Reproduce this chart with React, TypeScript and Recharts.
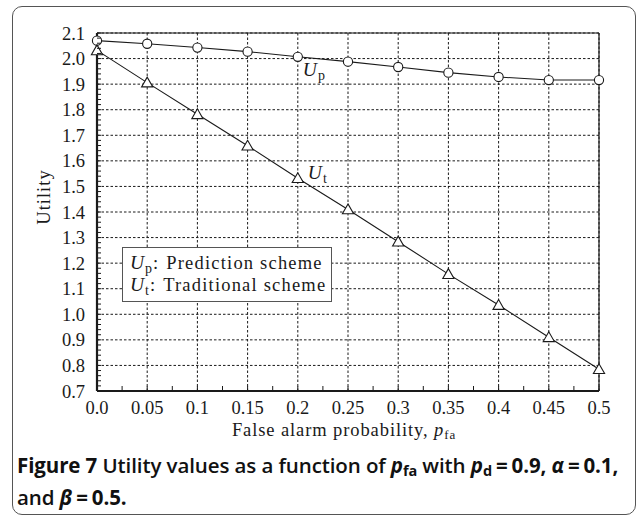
import React from 'react';
import { LineChart, Line, XAxis, YAxis, CartesianGrid, Legend, Label } from 'recharts';

const pfa = [0, 0.05, 0.1, 0.15, 0.2, 0.25, 0.3, 0.35, 0.4, 0.45, 0.5];
const utilityPrediction = [2.07, 2.058, 2.043, 2.027, 2.007, 1.988, 1.967, 1.945, 1.928, 1.916, 1.916];
const utilityTraditional = [2.032, 1.906, 1.782, 1.659, 1.532, 1.41, 1.284, 1.157, 1.036, 0.91, 0.785];

const xTicks = [0, 0.05, 0.1, 0.15, 0.2, 0.25, 0.3, 0.35, 0.4, 0.45, 0.5];
const xTickLabels = ['0.0', '0.05', '0.1', '0.15', '0.2', '0.25', '0.3', '0.35', '0.4', '0.45', '0.5'];
const yTicks = [0.7, 0.8, 0.9, 1.0, 1.1, 1.2, 1.3, 1.4, 1.5, 1.6, 1.7, 1.8, 1.9, 2.0, 2.1];
const yTickLabels = ['0.7', '0.8', '0.9', '1.0', '1.1', '1.2', '1.3', '1.4', '1.5', '1.6', '1.7', '1.8', '1.9', '2.0', '2.1'];
const xMinorTicks = Array.from({ length: 21 }, (_, i) => Math.round(i * 25) / 1000);
const yMinorTicks = Array.from({ length: 71 }, (_, i) => Math.round(700 + i * 20) / 1000);

const rows = pfa.map((x, i) => ({ x, up: utilityPrediction[i], ut: utilityTraditional[i] }));

const SERIF = '"Liberation Serif", "Times New Roman", serif';
const INK = '#1a1a1a';

const labelFor = (v: number, ticks: number[], labels: string[]) => {
  const j = ticks.findIndex((t) => Math.abs(t - v) < 1e-6);
  return j >= 0 ? labels[j] : null;
};

const XTick = (p: any) => {
  const v = p.payload?.value;
  const lab = labelFor(v, xTicks, xTickLabels);
  return (
    <g>
      <line x1={p.x} y1={p.y} x2={p.x} y2={p.y - 5} stroke={INK} strokeWidth={1} />
      {lab !== null && (
        <text x={p.x} y={p.y + 23} textAnchor="middle" fontFamily={SERIF} fontSize={18.5} fill={INK}>
          {lab}
        </text>
      )}
    </g>
  );
};

const YTick = (p: any) => {
  const v = p.payload?.value;
  const lab = labelFor(v, yTicks, yTickLabels);
  return (
    <g>
      <line x1={p.x} y1={p.y} x2={p.x + 4} y2={p.y} stroke={INK} strokeWidth={1} />
      {lab !== null && (
        <text x={p.x - 12} y={p.y + 6.5} textAnchor="end" fontFamily={SERIF} fontSize={18.5} fill={INK}>
          {lab}
        </text>
      )}
    </g>
  );
};

const CircleDot = (p: any) => (
  <circle key={`c${p.index}`} cx={p.cx} cy={p.cy} r={4.6} fill="#fff" stroke={INK} strokeWidth={1.1} />
);
const TriDot = (p: any) => (
  <polygon
    key={`t${p.index}`}
    points={`${p.cx},${p.cy - 5.5} ${p.cx - 5.6},${p.cy + 4.3} ${p.cx + 5.6},${p.cy + 4.3}`}
    fill="#fff"
    stroke={INK}
    strokeWidth={1.1}
  />
);

const SeriesName = ({ x, y, sub }: { x: number; y: number; sub: string }) => (
  <text x={x} y={y} fontFamily={SERIF} fill={INK}>
    <tspan fontSize={19.5} fontStyle="italic">U</tspan>
    <tspan fontSize={14} dy={4} dx={1}>{sub}</tspan>
  </text>
);

const upLabel = (p: any) =>
  p.index === 4 ? <SeriesName key="lup" x={p.x + 5} y={p.y + 19} sub="p" /> : null;
const utLabel = (p: any) =>
  p.index === 4 ? <SeriesName key="lut" x={p.x + 10} y={p.y + 1} sub="t" /> : null;

const LegendBox = () => {
  const item = (sub: string, text: string) => (
    <div style={{ whiteSpace: 'nowrap', height: 22, lineHeight: '22px' }}>
      <span style={{ fontStyle: 'italic', fontSize: 19.5 }}>U</span>
      <span style={{ fontSize: 14, position: 'relative', top: 4, marginLeft: 1 }}>{sub}</span>
      <span style={{ marginLeft: 1, marginRight: 8 }}>:</span>
      <span style={{ letterSpacing: 1.2 }}>{text}</span>
    </div>
  );
  return (
    <div
      style={{
        width: 210,
        height: 55,
        boxSizing: 'border-box',
        border: '1.3px solid #555',
        background: '#fff',
        padding: '4px 0 0 7px',
        fontFamily: SERIF,
        fontSize: 18.5,
        color: INK,
        textAlign: 'left',
      }}
    >
      {item('p', 'Prediction scheme')}
      {item('t', 'Traditional scheme')}
    </div>
  );
};

const Eq = () => <span style={{ margin: '0 4px' }}>=</span>;

export default function App() {
  return (
    <div style={{ position: 'absolute', left: 0, top: 0, width: 637, height: 519, background: '#fff' }}>
      <div
        style={{
          position: 'absolute',
          left: 12,
          top: 6,
          width: 624,
          height: 509,
          boxSizing: 'border-box',
          border: '1.3px solid #555',
          borderRadius: 10,
        }}
      />
      <div style={{ position: 'absolute', left: 0, top: 0 }}>
        <LineChart width={637} height={519} data={rows} margin={{ top: 32, right: 37, bottom: 127, left: 96 }}>
          <CartesianGrid
            xAxisId="main"
            yAxisId="main"
            horizontalValues={yTicks}
            verticalValues={xTicks}
            stroke={INK}
            strokeDasharray="2.5 2"
            strokeWidth={1}
          />
          <XAxis
            xAxisId="main"
            type="number"
            dataKey="x"
            domain={[0, 0.5]}
            ticks={xMinorTicks}
            interval={0}
            height={1}
            axisLine={{ stroke: INK, strokeWidth: 2.2 }}
            tickLine={false}
            tickSize={0}
            tickMargin={0}
            tick={XTick}
          >
            <Label
              content={(p: any) => {
                const vb = p.viewBox || {};
                return (
                  <text
                    x={vb.x + vb.width / 2 - 4}
                    y={vb.y + 45}
                    textAnchor="middle"
                    fontFamily={SERIF}
                    fontSize={18.5}
                    fill={INK}
                    style={{ letterSpacing: 0.9 }}
                  >
                    False alarm probability,{' '}
                    <tspan fontStyle="italic">p</tspan>
                    <tspan fontSize={13} dy={3}>fa</tspan>
                  </text>
                );
              }}
            />
          </XAxis>
          <XAxis
            xAxisId="top"
            orientation="top"
            type="number"
            dataKey="x"
            domain={[0, 0.5]}
            height={1}
            tick={false}
            tickLine={false}
            axisLine={{ stroke: INK, strokeWidth: 1.2 }}
          />
          <YAxis
            yAxisId="main"
            type="number"
            domain={[0.7, 2.1]}
            ticks={yMinorTicks}
            interval={0}
            width={1}
            axisLine={{ stroke: INK, strokeWidth: 2.2 }}
            tickLine={false}
            tickSize={0}
            tickMargin={0}
            tick={YTick}
          >
            <Label
              content={(p: any) => {
                const vb = p.viewBox || {};
                const cx = vb.x + vb.width - 53;
                const cy = vb.y + vb.height / 2 - 15;
                return (
                  <text
                    x={cx}
                    y={cy}
                    transform={`rotate(-90 ${cx} ${cy})`}
                    textAnchor="middle"
                    dominantBaseline="central"
                    fontFamily={SERIF}
                    fontSize={18.5}
                    fill={INK}
                    style={{ letterSpacing: 1 }}
                  >
                    Utility
                  </text>
                );
              }}
            />
          </YAxis>
          <YAxis
            yAxisId="right"
            orientation="right"
            type="number"
            domain={[0.7, 2.1]}
            width={1}
            tick={false}
            tickLine={false}
            axisLine={{ stroke: INK, strokeWidth: 1.2 }}
          />
          <Line
            xAxisId="main"
            yAxisId="main"
            type="linear"
            dataKey="up"
            name="Prediction scheme"
            stroke={INK}
            strokeWidth={1.1}
            dot={CircleDot}
            activeDot={false}
            label={upLabel}
            isAnimationActive={false}
          />
          <Line
            xAxisId="main"
            yAxisId="main"
            type="linear"
            dataKey="ut"
            name="Traditional scheme"
            stroke={INK}
            strokeWidth={1.1}
            dot={TriDot}
            activeDot={false}
            label={utLabel}
            isAnimationActive={false}
          />
          <Legend
            layout="vertical"
            align="center"
            verticalAlign="middle"
            content={() => <LegendBox />}
            wrapperStyle={{ position: 'absolute', left: 122, top: 247, width: 210, height: 55 }}
          />
        </LineChart>
      </div>
      <div
        style={{
          position: 'absolute',
          left: 17,
          top: 449,
          fontFamily: '"Open Sans", "Noto Sans", sans-serif',
          fontWeight: 700,
          fontSize: 20.5,
          lineHeight: '32px',
          color: '#111',
          whiteSpace: 'nowrap',
          letterSpacing: -0.1,
        }}
      >
        <div>
          Figure 7 <span style={{ fontWeight: 600 }}>Utility values as a function of </span>
          <i>p</i>
          <sub style={{ fontSize: 14.5, verticalAlign: -3, lineHeight: 0 }}>fa</sub>
          <span style={{ fontWeight: 600 }}> with </span>
          <i>p</i>
          <sub style={{ fontSize: 14.5, verticalAlign: -3, lineHeight: 0 }}>d</sub>
          <Eq />0.9, <i>α</i>
          <Eq />0.1,
        </div>
        <div>
          <span style={{ fontWeight: 600 }}>and </span>
          <i>β</i>
          <Eq />0.5.
        </div>
      </div>
    </div>
  );
}
